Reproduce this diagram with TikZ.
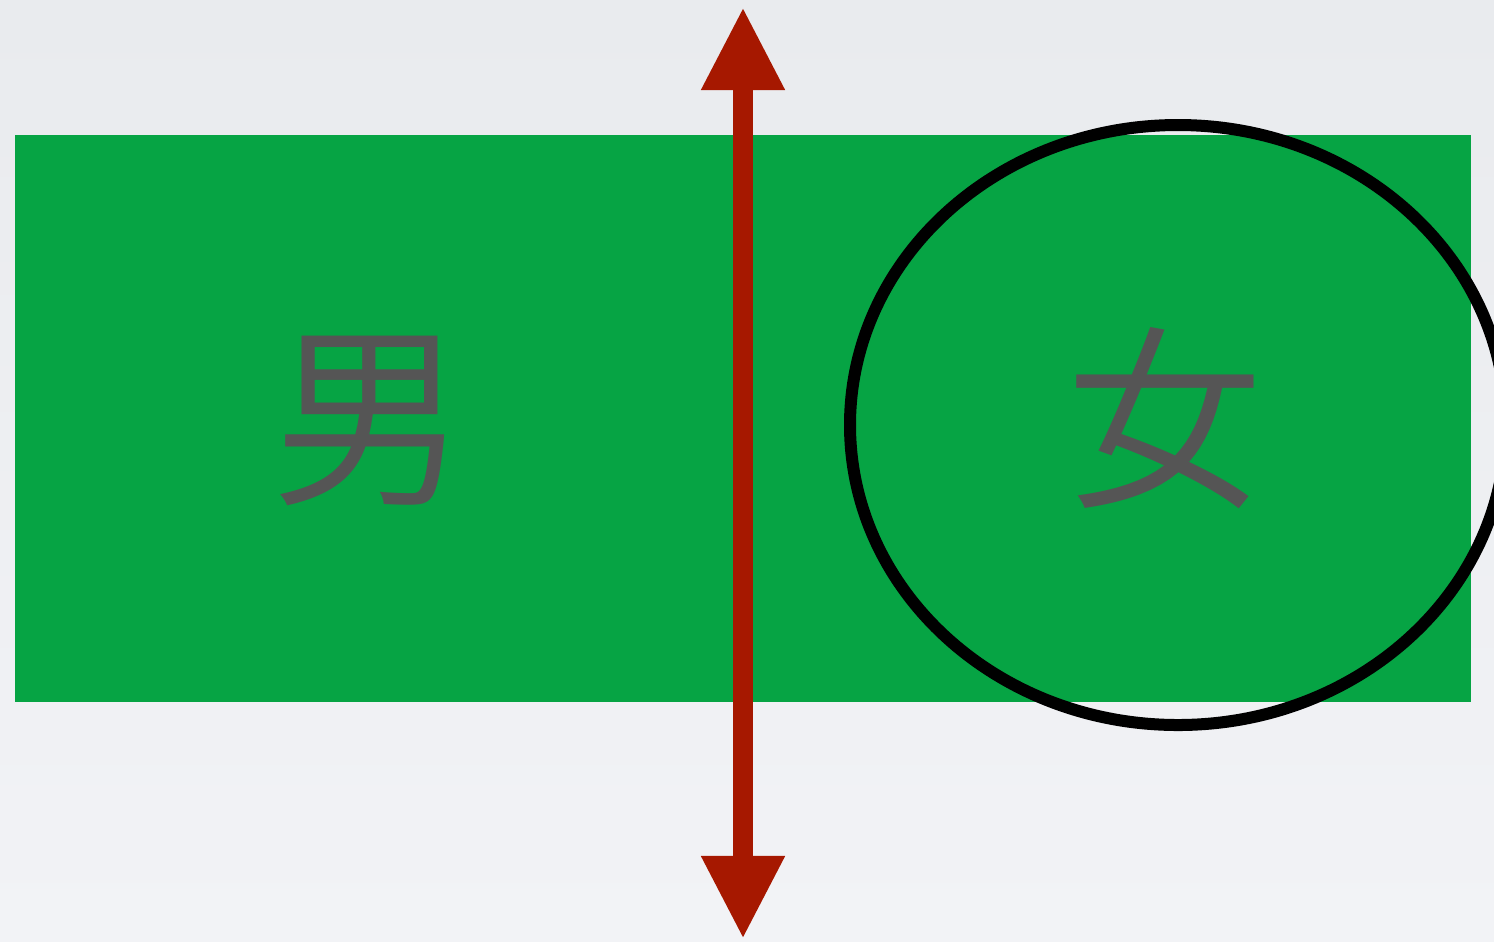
\documentclass[tikz,border=0pt]{standalone}
\usepackage{fontspec}
\newfontfamily\cjk[UprightFont={* DemiLight}]{Noto Sans CJK JP}
\usetikzlibrary{arrows.meta}
\definecolor{haikei1}{RGB}{233,235,238}
\definecolor{haikei2}{RGB}{242,243,246}
\definecolor{midori}{RGB}{6,164,68}
\definecolor{aka}{RGB}{166,24,0}
\definecolor{moji}{RGB}{85,85,85}

\begin{document}
\begin{tikzpicture}[x= 0.01cm, y= -0.01cm]
% 背景
	\useasboundingbox(0, 0) rectangle (1494, 941);
	\clip(0, 0) rectangle (1494, 941);
	\shade[top color= haikei1, bottom color= haikei2](0, 0) rectangle (1494, 941);
% 緑の帯
	\fill[midori](15, 135) rectangle (1471, 702); %
% 男と女
	\node[text= moji, font= \cjk\fontsize{56pt}{56pt}\selectfont] (otoko) at (370, 421) {男};
	\node[text= moji, font= \cjk\fontsize{56pt}{56pt}\selectfont] (onna) at (1165, 418) {女};
% 女を囲む楕円
	\draw[line width= 0.12cm](1178, 425) ellipse [x radius= 328, y radius= 300]; %
% 上下の矢印
	\coordinate (ue) at (743, 7);
	\coordinate (shita) at (743, 939);
	\draw[aka, line width= 0.2cm, {Triangle[length= 0.83cm, width= 0.78cm]}-{Triangle[length= 0.83cm, width= 0.78cm]}](ue)-- (shita); %
\end{tikzpicture}
\end{document}
